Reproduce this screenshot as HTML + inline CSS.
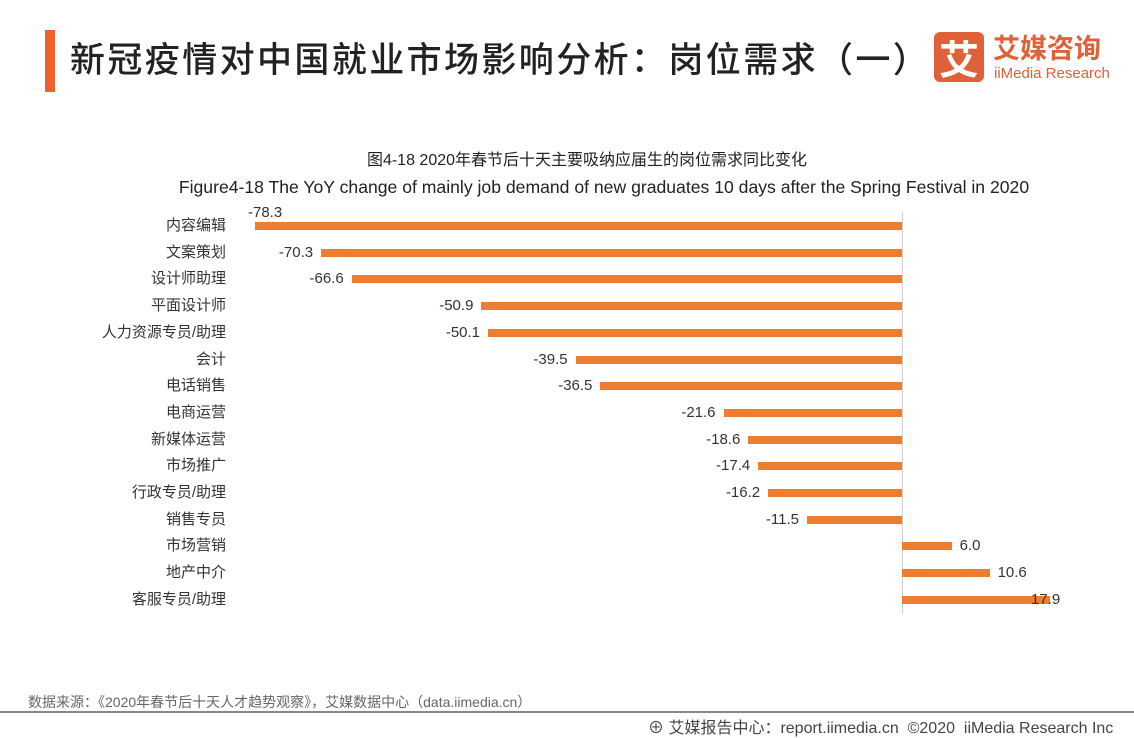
<!DOCTYPE html>
<html><head><meta charset="utf-8"><style>
body{margin:0;width:1134px;height:737px;background:#fff;position:relative;overflow:hidden;font-family:"Liberation Sans","Noto Sans CJK SC",sans-serif;}
.a{position:absolute;white-space:nowrap;}
.cat{position:absolute;right:908px;font-size:15px;color:#333;line-height:16px;}
.bar{position:absolute;height:8px;background:#ed7d31;}
.v{position:absolute;font-size:15px;color:#333;line-height:16px;}
</style></head><body>
<div class="a" style="left:45px;top:30px;width:10px;height:62px;background:#f0622d"></div>
<div class="a" style="left:70px;top:35px;font-size:35px;letter-spacing:2.4px;line-height:46px;color:#222;font-family:'Noto Sans CJK SC',sans-serif;font-weight:500">新冠疫情对中国就业市场影响分析：岗位需求（一）</div>
<div class="a" style="left:934px;top:32px;width:50px;height:50px;background:#e0603a;border-radius:6px;color:#fff;font-size:40px;line-height:50px;text-align:center;font-family:'Noto Sans CJK SC',sans-serif;font-weight:700">艾</div>
<div class="a" style="left:993px;top:30px;font-size:27px;color:#e0603a;font-weight:700;font-family:'Noto Sans CJK SC',sans-serif;line-height:34px">艾媒咨询</div>
<div class="a" style="left:994px;top:65px;font-size:15px;color:#e0603a;">iiMedia Research</div>
<div class="a" style="left:0;width:1134px;top:146px;text-align:center;font-size:16px;color:#222;padding-left:40px;box-sizing:border-box">图4-18 2020年春节后十天主要吸纳应届生的岗位需求同比变化</div>
<div class="a" style="left:0;width:1134px;top:177px;text-align:center;font-size:17.6px;color:#222;padding-left:74px;box-sizing:border-box">Figure4-18 The YoY change of mainly job demand of new graduates 10 days after the Spring Festival in 2020</div>
<div class="a" style="left:902px;top:212px;width:1px;height:402px;background:#d0d0d0"></div>
<div id="c"></div>
<script>
var d=[["内容编辑",-78.3],["文案策划",-70.3],["设计师助理",-66.6],["平面设计师",-50.9],["人力资源专员/助理",-50.1],["会计",-39.5],["电话销售",-36.5],["电商运营",-21.6],["新媒体运营",-18.6],["市场推广",-17.4],["行政专员/助理",-16.2],["销售专员",-11.5],["市场营销",6.0],["地产中介",10.6],["客服专员/助理",17.9]];
var h="",s=8.263;
d.forEach(function(r,i){var y=226+i*26.7,v=r[1],w=Math.abs(v)*s,x=v<0?902-w:902;
h+='<div class="cat" style="top:'+(y-8)+'px">'+r[0]+'</div>';
h+='<div class="bar" style="left:'+x+'px;top:'+(y-4)+'px;width:'+w+'px"></div>';
var t=v.toFixed(1);
if(i==0)h+='<div class="v" style="left:248px;top:'+(y-21)+'px">'+t+'</div>';
else if(v<0)h+='<div class="v" style="right:'+(1134-x+8)+'px;top:'+(y-8)+'px">'+t+'</div>';
else h+='<div class="v" style="left:'+(i==14?1031:x+w+8)+'px;top:'+(y-8)+'px">'+t+'</div>';});
document.getElementById("c").innerHTML=h;
</script>
<div class="a" style="left:28px;top:692px;font-size:14px;color:#666">数据来源：《2020年春节后十天人才趋势观察》，艾媒数据中心（data.iimedia.cn）</div>
<div class="a" style="left:0;top:711px;width:1134px;height:2px;background:#888"></div>
<div class="a" style="left:648px;top:714px;font-size:16px;color:#444">⊕ 艾媒报告中心：report.iimedia.cn &nbsp;©2020 &nbsp;iiMedia Research Inc</div>
</body></html>
